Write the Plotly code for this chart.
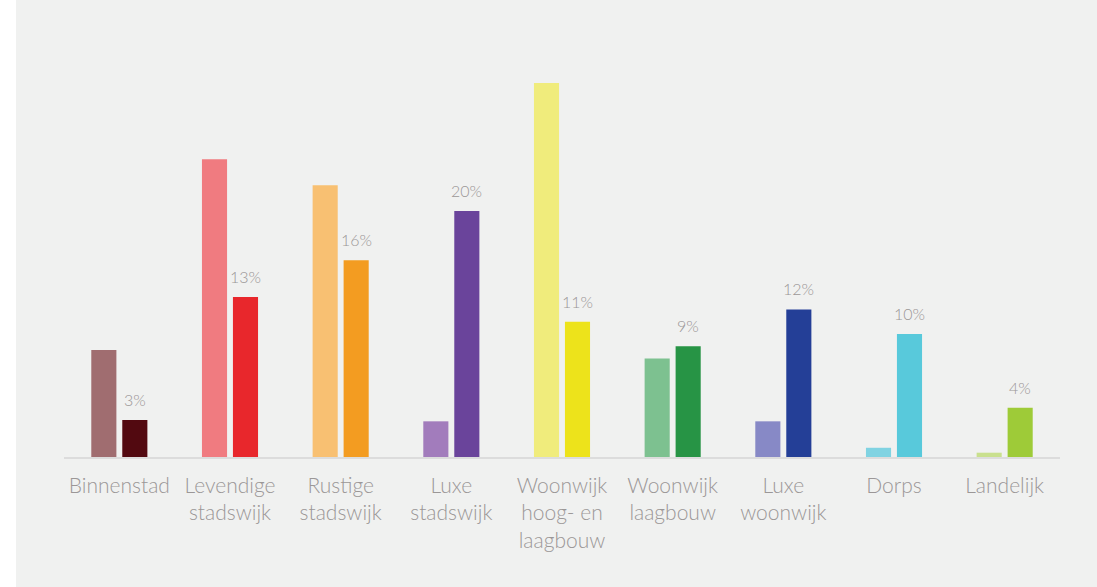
import plotly.graph_objects as go

# Neighbourhood types and their two shares (%)
categories = [
    "Binnenstad",
    "Levendige<br>stadswijk",
    "Rustige<br>stadswijk",
    "Luxe<br>stadswijk",
    "Woonwijk<br>hoog- en<br>laagbouw",
    "Woonwijk<br>laagbouw",
    "Luxe<br>woonwijk",
    "Dorps",
    "Landelijk",
]
share_light = [8.7, 24.2, 22.1, 2.9, 30.4, 8.0, 2.9, 0.75, 0.35]
share_dark = [3, 13, 16, 20, 11, 9, 12, 10, 4]
dark_labels = [f"{v}%" for v in share_dark]

colors_light = ["#a06d70", "#f07b80", "#f8c072", "#a27cbc", "#f0ec7c",
                "#7dc190", "#8789c6", "#80d3e2", "#c9e08e"]
colors_dark = ["#520910", "#e8272c", "#f39c21", "#6a449b", "#ede31b",
               "#279445", "#243f97", "#58c9db", "#9ecb38"]

BG = "#f0f1f0"
TEXT = "#9b9797"
FONT = "Lato, 'Open Sans', sans-serif"

fig = go.Figure()
fig.add_trace(go.Bar(x=categories, y=share_light, marker=dict(color=colors_light, line=dict(width=0)),
                     hoverinfo="skip"))
fig.add_trace(go.Bar(x=categories, y=share_dark, marker=dict(color=colors_dark, line=dict(width=0)),
                     hoverinfo="skip"))

# percentage labels over the darker bars
for cat, val, lab in zip(categories, share_dark, dark_labels):
    fig.add_annotation(x=cat, y=val, text=lab, showarrow=False, xanchor="center",
                       yanchor="bottom", xshift=15.5, yshift=9,
                       font=dict(family=FONT, size=16, color=TEXT, weight=300))

W, H = 1097, 587
ml, mr, mt, mb = 64, 37, 63, 130
pw, ph = W - ml - mr, H - mt - mb

# white frame strips at the top and left edges
fig.add_shape(type="rect", xref="paper", yref="paper",
              x0=-ml / pw, x1=(16 - ml) / pw, y0=-mb / ph, y1=(H - mt) / ph + 0.01,
              fillcolor="white", line=dict(width=0), layer="below")
fig.add_shape(type="rect", xref="paper", yref="paper",
              x0=-ml / pw, x1=(W - ml) / pw + 0.01, y0=(H - mt - 6) / ph, y1=(H - mt) / ph + 0.01,
              fillcolor="white", line=dict(width=0), layer="below")

fig.update_layout(
    width=W, height=H,
    margin=dict(l=ml, r=mr, t=mt, b=mb, pad=0),
    paper_bgcolor=BG, plot_bgcolor=BG,
    barmode="group", bargap=0.44, bargroupgap=0.19,
    showlegend=False,
    font=dict(family=FONT, color=TEXT),
    xaxis=dict(showline=True, linecolor="#dcdcdc", linewidth=1.5, ticks="",
               tickfont=dict(family=FONT, size=21, color=TEXT, weight=300), ticklabelstandoff=9,
               showgrid=False, zeroline=False, fixedrange=True),
    yaxis=dict(range=[0, ph / 12.3], visible=False, showgrid=False, zeroline=False),
)

fig.write_html("out.html")
